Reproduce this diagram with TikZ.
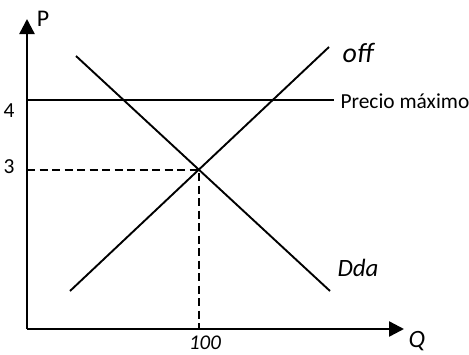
\documentclass[tikz,border=0pt]{standalone}
\usepackage{fontspec}
\setmainfont{Carlito}
\usetikzlibrary{arrows.meta}

\tikzset{
  axis/.style={line width=2.4bp, -{Triangle[length=15bp,width=15bp]}},
  curve/.style={line width=1.9bp},
  guide/.style={line width=2bp, dash pattern=on 8bp off 4.5bp},
  small/.style={font=\fontsize{21.5}{24}\selectfont},
  big/.style={font=\fontsize{25}{28}\selectfont\itshape}
}

\begin{document}
\begin{tikzpicture}[x=1bp,y=1bp]
    \useasboundingbox (0,0) rectangle (469,354);

    % --- Tengelyek ---
    \coordinate (O) at (27,25);
    \coordinate (ytop) at (27,335);
    \coordinate (xend) at (404,25);
    \draw[axis] (O) -- (ytop);
    \draw[axis] (O) -- (xend);
    \node[small, font=\fontsize{24}{26}\selectfont] (Plab) at (43,335) {P};
    \node[big] (Qlab) at (417,13) {Q};

    % --- Precio máximo ---
    \coordinate (pm0) at (27,254);
    \coordinate (pm1) at (334,254);
    \draw[curve] (pm0) -- (pm1);
    \node[small, anchor=west] (pmlab) at (337,253) {Precio máximo};
    \node[small] (p4) at (9,243) {4};

    % --- Egyensúlyi pont ---
    \coordinate (E) at (199,184);
    \coordinate (Ey) at (27,184);
    \coordinate (Ex) at (199,25);
    \draw[guide] (Ey) -- (E) -- (Ex);
    \node[small] (p3) at (9,187) {3};
    \node[small, font=\fontsize{21}{23}\selectfont\itshape] (q100) at (205,11) {100};

    % --- Kínálat és kereslet ---
    \coordinate (s0) at (70,63);
    \coordinate (s1) at (329,307);
    \draw[curve] (s0) -- (s1);
    \node[big, font=\fontsize{28}{30}\selectfont\itshape] (offlab) at (358,301) {off};
    \coordinate (d0) at (76,298);
    \coordinate (d1) at (330,63);
    \draw[curve] (d0) -- (d1);
    \node[big] (ddalab) at (358,86) {Dda};

\end{tikzpicture}
\end{document}
